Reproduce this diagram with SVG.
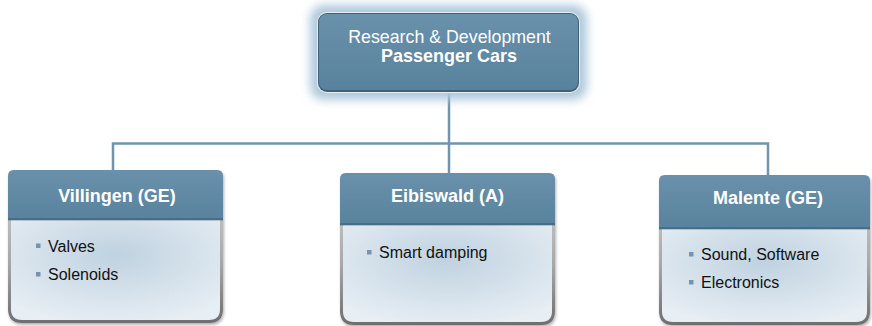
<svg xmlns="http://www.w3.org/2000/svg" width="872" height="326" viewBox="0 0 872 326">
<defs>
<style>
.hdr{font-family:"Liberation Sans",Arial,sans-serif;font-weight:bold;font-size:18px;fill:#ffffff;text-anchor:middle}
.top1{font-family:"Liberation Sans",Arial,sans-serif;font-size:17.8px;fill:#ffffff;text-anchor:middle}
.top2{font-family:"Liberation Sans",Arial,sans-serif;font-weight:bold;font-size:18px;fill:#ffffff;text-anchor:middle}
.item{font-family:"Liberation Sans",Arial,sans-serif;font-size:16px;fill:#111111}
.bul{fill:#7396ae}
.conn{fill:none;stroke:#7094ad;stroke-width:2.5}
.border{fill:url(#borderG)}
.body{fill:url(#bodyG)}
.head{fill:url(#headG)}
.hline{fill:#3d5d72;opacity:0.55}
</style>
<linearGradient id="headG" x1="0" y1="0" x2="0" y2="1">
<stop offset="0" stop-color="#6a91ab"/>
<stop offset="1" stop-color="#58829d"/>
</linearGradient>
<linearGradient id="borderG" x1="0" y1="0" x2="0" y2="1">
<stop offset="0" stop-color="#d4d4d4"/>
<stop offset="0.6" stop-color="#a8a8a8"/>
<stop offset="1" stop-color="#6e6e6e"/>
</linearGradient>
<radialGradient id="bodyG" cx="0.5" cy="0.35" r="0.7">
<stop offset="0" stop-color="#bfd2e0"/>
<stop offset="1" stop-color="#e7eef4"/>
</radialGradient>
<filter id="glow" x="-20%" y="-30%" width="140%" height="160%">
<feGaussianBlur stdDeviation="5"/>
</filter>
<filter id="shadow" x="-10%" y="-10%" width="120%" height="120%">
<feDropShadow dx="1" dy="2" stdDeviation="1.5" flood-color="#000" flood-opacity="0.3"/>
</filter>
</defs>
<rect width="872" height="326" fill="#ffffff"/>

<g id="connectors">
<path class="conn" d="M449,92 V173"/>
<path class="conn" d="M113,170 V143.5 H768 V175"/>
</g>

<g id="rd-top">
<rect x="310" y="5" width="277" height="95" rx="14" fill="#afc9dc" filter="url(#glow)"/>
<rect x="317" y="12" width="263" height="81" rx="10" fill="#e6edf2"/>
<rect x="318" y="13" width="261" height="79" rx="9" fill="#435f72"/>
<rect x="319" y="14" width="259" height="76" rx="8" class="head"/>
<text class="top1" x="449.5" y="43">Research &amp; Development</text>
<text class="top2" x="449" y="62">Passenger Cars</text>
</g>

<g id="villingen" transform="translate(8,170)">
<g filter="url(#shadow)">
<path class="border" d="M6,0 H209 Q215,0 215,6 V139 Q215,153 201,153 H14 Q0,153 0,139 V6 Q0,0 6,0 Z"/>
</g>
<path class="body" d="M3,50 H212 V139 Q212,150 201,150 H14 Q3,150 3,139 Z"/>
<path class="head" d="M6,0 H209 Q215,0 215,6 V50 H0 V6 Q0,0 6,0 Z"/>
<rect class="hline" x="0" y="48" width="215" height="2.5"/>
<text class="hdr" x="109" y="32">Villingen (GE)</text>
<rect class="bul" x="28" y="73.5" width="4.5" height="4.5"/>
<text class="item" x="40" y="81.5">Valves</text>
<rect class="bul" x="28" y="102" width="4.5" height="4.5"/>
<text class="item" x="40" y="110">Solenoids</text>
</g>

<g id="eibiswald" transform="translate(340,173)">
<g filter="url(#shadow)">
<path class="border" d="M6,0 H209 Q215,0 215,6 V138 Q215,152 201,152 H14 Q0,152 0,138 V6 Q0,0 6,0 Z"/>
</g>
<path class="body" d="M3,52 H212 V138 Q212,149 201,149 H14 Q3,149 3,138 Z"/>
<path class="head" d="M6,0 H209 Q215,0 215,6 V52 H0 V6 Q0,0 6,0 Z"/>
<rect class="hline" x="0" y="50" width="215" height="2.5"/>
<text class="hdr" x="107.5" y="29">Eibiswald (A)</text>
<rect class="bul" x="27" y="77" width="4.5" height="4.5"/>
<text class="item" x="39" y="85">Smart damping</text>
</g>

<g id="malente" transform="translate(659,175)">
<g filter="url(#shadow)">
<path class="border" d="M6,0 H205 Q211,0 211,6 V136 Q211,150 197,150 H14 Q0,150 0,136 V6 Q0,0 6,0 Z"/>
</g>
<path class="body" d="M3,54 H208 V136 Q208,147 197,147 H14 Q3,147 3,136 Z"/>
<path class="head" d="M6,0 H205 Q211,0 211,6 V54 H0 V6 Q0,0 6,0 Z"/>
<rect class="hline" x="0" y="52" width="211" height="2.5"/>
<text class="hdr" x="109" y="28.5">Malente (GE)</text>
<rect class="bul" x="30" y="77" width="4.5" height="4.5"/>
<text class="item" x="42" y="85">Sound, Software</text>
<rect class="bul" x="30" y="105" width="4.5" height="4.5"/>
<text class="item" x="42" y="113">Electronics</text>
</g>
</svg>
